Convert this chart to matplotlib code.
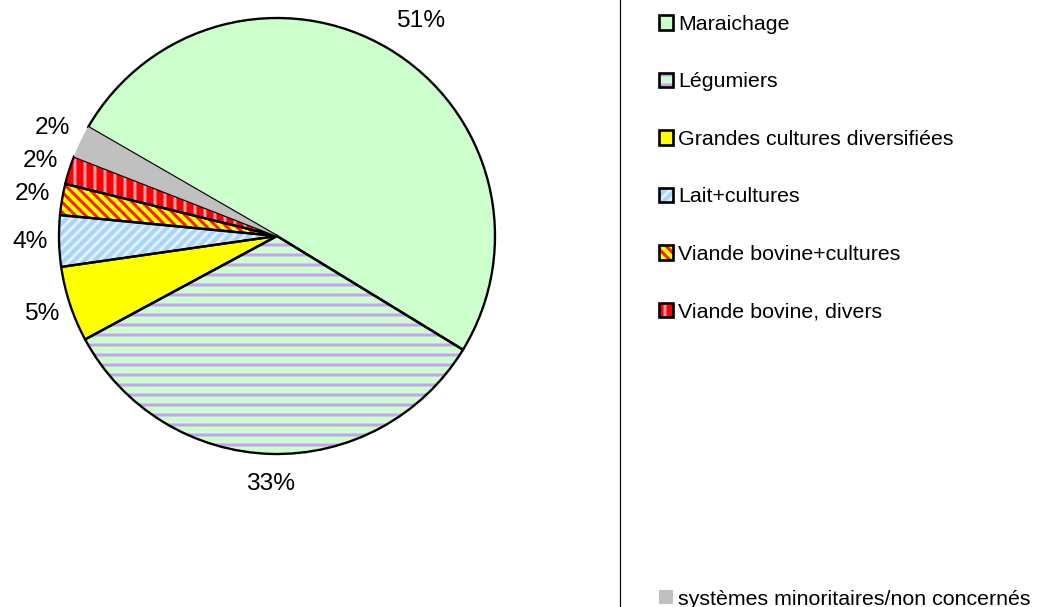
import matplotlib
matplotlib.use("Agg")
import matplotlib.pyplot as plt
from matplotlib.patches import Patch
from matplotlib.legend_handler import HandlerTuple
import numpy as np

# ---------------- data ----------------
categories = ["Maraichage", "Légumiers", "Grandes cultures diversifiées",
              "Lait+cultures", "Viande bovine+cultures", "Viande bovine, divers",
              "systèmes minoritaires/non concernés"]
values = [50.4, 33.4, 5.6, 3.8, 2.3, 2.1, 2.4]
pct_labels = ["51%", "33%", "5%", "4%", "2%", "2%", "2%"]

# ---------------- style ----------------
face_colors = ["#CCFFCC", "#CCFFCC", "#FFFF00", "#A9D4FF", "#FFFF00", "#FF0000", "#C0C0C0"]
hatches = [None, "--", None, "////", "\\\\\\\\", "||", None]
hatch_colors = [None, "#C8A0F5", None, "#E2F1FF", "#FF1A00", "#DDA0A8", None]
label_r = [1.183, 1.138, 1.138, 1.133, 1.138, 1.138, 1.142]
label_dang = [-3, 0, 0, 0, 0, 0, 0]

DPI = 120
plt.rcParams["hatch.linewidth"] = 1.8
plt.rcParams["font.family"] = ["Liberation Sans", "DejaVu Sans"]

fig = plt.figure(figsize=(1037 / DPI, 607 / DPI), dpi=DPI)
fig.patch.set_facecolor("white")

cx, cy, R = 277, 236, 218
ax = fig.add_axes([(cx - R) / 1037, (607 - cy - R) / 607, 2 * R / 1037, 2 * R / 607])

common = dict(startangle=150, counterclock=False, radius=1, center=(0, 0))

# pass A : fills
wA, _ = ax.pie(values, colors=face_colors,
               wedgeprops=dict(linewidth=0, edgecolor="none"), **common)
# pass B : hatches
wB, _ = ax.pie(values, wedgeprops=dict(linewidth=0), **common)
for w, h, hc in zip(wB, hatches, hatch_colors):
    w.set_facecolor("none")
    if h:
        w.set_hatch(h)
        w.set_edgecolor(hc)
    else:
        w.set_visible(False)
    w.set_linewidth(0)
# pass C : edges (grey slice has no border, drawn last)
wC, _ = ax.pie(values, wedgeprops=dict(linewidth=1.4, edgecolor="black", facecolor="none"),
               **common)
wC[-1].set_facecolor(face_colors[-1])
wC[-1].set_edgecolor("none")

ax.set_xlim(-1, 1)
ax.set_ylim(-1, 1)
ax.set_aspect("equal")
ax.axis("off")

for w, lab, lr, da in zip(wA, pct_labels, label_r, label_dang):
    ang = np.deg2rad((w.theta1 + w.theta2) / 2 + da)
    ax.text(lr * np.cos(ang), lr * np.sin(ang), lab, ha="center", va="center",
            fontsize=14.7, color="black", clip_on=False)

# ---------------- legend ----------------
handles = []
for fc, h, hc in zip(face_colors[:-1], hatches[:-1], hatch_colors[:-1]):
    parts = [Patch(facecolor=fc, edgecolor="none", linewidth=0)]
    if h:
        parts.append(Patch(facecolor="none", edgecolor=hc, hatch=h, linewidth=0))
    parts.append(Patch(facecolor="none", edgecolor="black", linewidth=1.6))
    handles.append(tuple(parts))
n_blank = 4
for _ in range(n_blank):
    handles.append(Patch(facecolor="none", edgecolor="none"))
handles.append(Patch(facecolor=face_colors[-1], edgecolor="none"))
labels = categories[:-1] + [" "] * n_blank + [categories[-1]]

leg = fig.legend(handles, labels, loc="upper left",
                 bbox_to_anchor=(620 / 1037, 1 + 24 / 607), bbox_transform=fig.transFigure,
                 borderaxespad=0, borderpad=1.82, labelspacing=1.797,
                 handlelength=0.65, handleheight=0.65, handletextpad=0.25,
                 frameon=True, fancybox=False, framealpha=1,
                 handler_map={tuple: HandlerTuple(ndivide=1, pad=0)},
                 prop={"family": "Liberation Sans", "size": 12.85})
leg.get_frame().set_edgecolor("black")
leg.get_frame().set_linewidth(0.7)

fig.savefig("out.png", dpi=DPI)
